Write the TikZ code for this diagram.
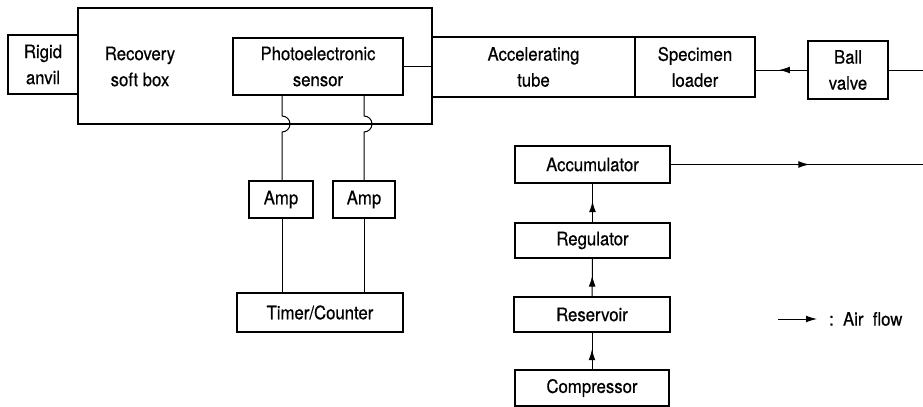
\documentclass[tikz,border=0pt]{standalone}
\usepackage{fontspec}
\setmainfont{TeX Gyre Heros}[FakeStretch=0.9,FakeBold=0.5]
\usetikzlibrary{arrows.meta,decorations.markings}
\begin{document}
\begin{tikzpicture}[x=0.5pt,y=-0.5pt,
  every node/.style={font=\fontsize{9.3}{13}\selectfont,align=center},
  blk/.style={draw,line width=0.65pt,inner sep=0pt},
  wire/.style={line width=0.5pt},
  flow/.style={line width=0.5pt,decoration={markings,
    mark=at position 0.55 with {\arrow{Latex[length=5.5pt,width=3.4pt]}}},postaction={decorate}}]
\useasboundingbox (0,0) rectangle (923,407);
% launcher line
\node[blk,minimum width=177pt,minimum height=58pt] (recov) at (255,66) {};
\node (rtext) at (140,66.5) {Recovery\\soft box};
\node[blk,minimum width=35pt,minimum height=29.5pt] (anvil) at (43,64.5) {Rigid\\anvil};
\node[blk,minimum width=85pt,minimum height=28.5pt] (photo) at (318,66.5) {Photoelectronic\\sensor};
\node[blk,minimum width=101.5pt,minimum height=30pt] (tube) at (533.5,67) {Accelerating\\tube};
\node[blk,minimum width=60pt,minimum height=30pt] (loader) at (695,67) {Specimen\\loader};
\node[blk,minimum width=40pt,minimum height=29pt] (valve) at (848,70) {Ball\\valve};
\coordinate (vout) at (923,70);
\draw[wire] (photo.east) -- (photo.east -| recov.east);
\draw[flow] (valve.west) -- (valve.west -| loader.east);
\draw[wire] (valve.east) -- (vout);
% timing
\node[blk,minimum width=32pt,minimum height=18.5pt] (amp1) at (281,199.5) {Amp};
\node[blk,minimum width=31pt,minimum height=18.5pt] (amp2) at (364,199.5) {Amp};
\node[blk,minimum width=83pt,minimum height=19.5pt] (timer) at (320,312.5) {Timer/Counter};
\foreach \a/\x in {amp1/282,amp2/364}{
  \coordinate (\a top) at (\x,95);
  \draw[wire] (\a top) -- (\x,116) arc[start angle=-90,end angle=90,radius=8] -- (\x,181);
  \draw[wire] (\x,218) -- (\x,293);
}
% air supply
\node[blk,minimum width=77.5pt,minimum height=18.5pt] (acc) at (592.5,164.5) {Accumulator};
\node[blk,minimum width=77.5pt,minimum height=17.5pt] (reg) at (592.5,240.5) {Regulator};
\node[blk,minimum width=78pt,minimum height=17.5pt] (res) at (592,314.5) {Reservoir};
\node[blk,minimum width=77pt,minimum height=18pt] (comp) at (592,388) {Compressor};
\coordinate (aout) at (923,164.5);
\draw[flow] (acc.east) -- (aout);
\draw[flow] (comp) -- (res);
\draw[flow] (res) -- (reg);
\draw[flow] (reg) -- (acc);
% legend
\coordinate (la) at (778,319);
\coordinate (lb) at (817,319);
\draw[wire,-{Latex[length=5.5pt,width=3.4pt]}] (la) -- (lb);
\node[anchor=west] (ltext) at (822,319) {:\ \ Air\ \ flow};
\end{tikzpicture}
\end{document}
